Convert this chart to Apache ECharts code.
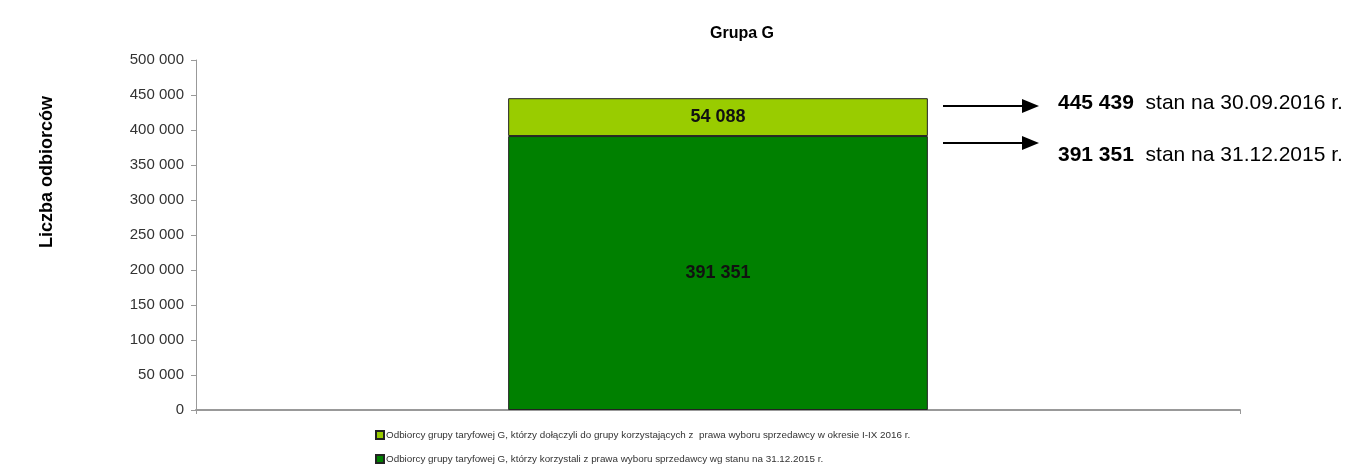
<!DOCTYPE html>
<html>
<head>
<meta charset="utf-8">
<script src="https://cdn.jsdelivr.net/npm/echarts@6/dist/echarts.min.js"></script>
<style>html,body{margin:0;padding:0;background:#fff}#c{width:1351px;height:466px}</style>
</head>
<body>
<div id="c"></div>
<script>
const categories = ['Grupa G'];
const baseValues = [391351];
const addedValues = [54088];
const seriesNames = [
  'Odbiorcy grupy taryfowej G, którzy korzystali z prawa wyboru sprzedawcy wg stanu na 31.12.2015 r.',
  'Odbiorcy grupy taryfowej G, którzy dołączyli do grupy korzystających z  prawa wyboru sprzedawcy w okresie I-IX 2016 r.'
];
const annotationDates = ['stan na 30.09.2016 r.', 'stan na 31.12.2015 r.'];
const yTicks = { min: 0, max: 500000, interval: 50000 };

function fmt(v) { return String(v).replace(/\B(?=(\d{3})+(?!\d))/g, ' '); }
const totalValue = baseValues[0] + addedValues[0];
const FONT = '"Liberation Sans", Arial, sans-serif';

const legendCommon = {
  left: 375, itemWidth: 8, itemHeight: 8, icon: 'rect', padding: 0,
  textStyle: { fontFamily: FONT, fontSize: 9.85, color: '#333', padding: [0, 0, 0, -3] }
};

const chart = echarts.init(document.getElementById('c'));
chart.setOption({
  animation: false,
  textStyle: { fontFamily: FONT },
  title: {
    text: 'Grupa G', left: 705, top: 21,
    textStyle: { fontFamily: FONT, fontSize: 16, fontWeight: 'bold', color: '#000' }
  },
  grid: { left: 196, right: 111, top: 60, bottom: 56, containLabel: false },
  xAxis: {
    type: 'category', data: categories,
    axisLine: { lineStyle: { color: '#999', width: 2 } },
    axisTick: { show: true, length: 4, lineStyle: { color: '#999' } },
    axisLabel: { show: false }
  },
  yAxis: {
    type: 'value', min: yTicks.min, max: yTicks.max, interval: yTicks.interval,
    axisLine: { show: true, lineStyle: { color: '#999' } },
    axisTick: { show: true, length: 5, lineStyle: { color: '#999' } },
    splitLine: { show: false },
    axisLabel: { formatter: fmt, fontSize: 15, color: '#333', fontFamily: FONT, margin: 12 }
  },
  legend: [
    Object.assign({}, legendCommon, { top: 430, data: [seriesNames[1]] }),
    Object.assign({}, legendCommon, { top: 454, data: [seriesNames[0]] })
  ],
  series: [
    {
      name: seriesNames[0], type: 'bar', stack: 'a', data: baseValues, barWidth: '40.2%',
      itemStyle: { color: '#008000', borderColor: '#222', borderWidth: 1 },
      label: { show: true, position: 'inside', formatter: p => fmt(p.value), fontSize: 18, fontWeight: 'bold', color: '#111', fontFamily: FONT }
    },
    {
      name: seriesNames[1], type: 'bar', stack: 'a', data: addedValues, barWidth: '40.2%',
      itemStyle: { color: '#99CC00', borderColor: '#222', borderWidth: 1 },
      label: { show: true, position: 'inside', formatter: p => fmt(p.value), fontSize: 18, fontWeight: 'bold', color: '#111', fontFamily: FONT }
    }
  ],
  graphic: [
    { type: 'text', x: 47, y: 172, rotation: Math.PI / 2,
      style: { text: 'Liczba odbiorców', font: 'bold 18px ' + FONT, fill: '#000', textAlign: 'center', textVerticalAlign: 'middle' } },
    { type: 'line', shape: { x1: 943, y1: 106, x2: 1026, y2: 106 }, style: { stroke: '#000', lineWidth: 2 } },
    { type: 'polygon', shape: { points: [[1022, 99], [1039, 106], [1022, 113]] }, style: { fill: '#000' } },
    { type: 'line', shape: { x1: 943, y1: 143, x2: 1026, y2: 143 }, style: { stroke: '#000', lineWidth: 2 } },
    { type: 'polygon', shape: { points: [[1022, 136], [1039, 143], [1022, 150]] }, style: { fill: '#000' } },
    { type: 'text', x: 1058, y: 103,
      style: { text: '{b|' + fmt(totalValue) + '}  ' + annotationDates[0], font: '21px ' + FONT, fill: '#000', textVerticalAlign: 'middle',
        rich: { b: { font: 'bold 21px ' + FONT, fill: '#000' } } } },
    { type: 'text', x: 1058, y: 155,
      style: { text: '{b|' + fmt(baseValues[0]) + '}  ' + annotationDates[1], font: '21px ' + FONT, fill: '#000', textVerticalAlign: 'middle',
        rich: { b: { font: 'bold 21px ' + FONT, fill: '#000' } } } }
  ]
});
</script>
</body>
</html>
